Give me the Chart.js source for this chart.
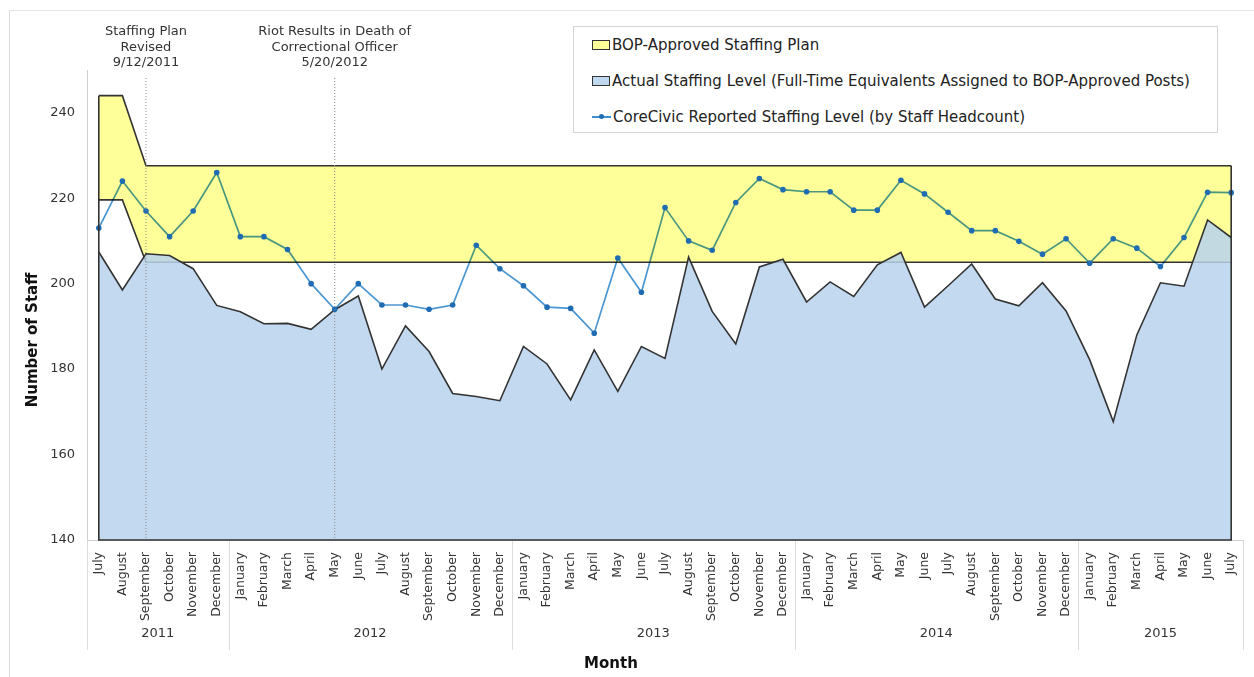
<!DOCTYPE html>
<html>
<head>
<meta charset="utf-8">
<script src="https://cdn.jsdelivr.net/npm/chart.js@4/dist/chart.umd.min.js"></script>
<style>
  html, body { margin: 0; padding: 0; background: #fff; }
  #wrap { position: relative; width: 1254px; height: 677px; overflow: hidden; font-family: 'DejaVu Sans', Verdana, sans-serif; }
  #frame { position: absolute; left: 9px; top: 10px; width: 1260px; height: 700px; border-left: 1px solid #dcdcdc; border-top: 1px solid #e6e6e6; }
  canvas { position: absolute; left: 0; top: 0; }
  #legend { position: absolute; left: 573px; top: 26px; width: 645px; height: 107px; border: 1px solid #d4d4d4; box-sizing: border-box; background: #fff; }
  .row { position: absolute; left: 18px; height: 20px; display: flex; align-items: center; font-size: 15px; color: #222; white-space: nowrap; }
  .swatch { width: 16px; height: 8px; border: 1.5px solid #333; margin-right: 2px; }
  .lineSym { position: relative; width: 19px; height: 20px; margin-right: 2px; }
  .lineSym::before { content: ''; position: absolute; left: 0; right: 0; top: 9px; height: 1.5px; background: #3d8fd0; }
  .lineSym::after { content: ''; position: absolute; left: 7px; top: 7px; width: 5px; height: 5px; border-radius: 50%; background: #1f6cb3; }
</style>
</head>
<body>
<div id="wrap">
  <div id="frame"></div>
  <canvas id="chart" width="1254" height="677"></canvas>
  <div id="legend">
    <div class="row" style="top:8px"><span class="swatch" style="background:#ffff99"></span>BOP-Approved Staffing Plan</div>
    <div class="row" style="top:44px"><span class="swatch" style="background:#c0d8ee"></span>Actual Staffing Level (Full-Time Equivalents Assigned to BOP-Approved Posts)</div>
    <div class="row" style="top:80px"><span class="lineSym"></span>CoreCivic Reported Staffing Level (by Staff Headcount)</div>
  </div>
</div>
<script>
// Monthly staffing, July 2011 - July 2015
const months = [
  'July', 'August', 'September', 'October', 'November', 'December',
  'January', 'February', 'March', 'April', 'May', 'June', 'July', 'August', 'September', 'October', 'November', 'December',
  'January', 'February', 'March', 'April', 'May', 'June', 'July', 'August', 'September', 'October', 'November', 'December',
  'January', 'February', 'March', 'April', 'May', 'June', 'July', 'August', 'September', 'October', 'November', 'December',
  'January', 'February', 'March', 'April', 'May', 'June', 'July'
];
const yearLabels = ['2011', '2012', '2013', '2014', '2015'];
const yearStart = [0, 6, 18, 30, 42];
const yTicks = [140, 160, 180, 200, 220, 240];

const reported = [
  213, 224, 217, 211, 217, 226,
  211, 211, 208, 200, 194, 200, 195, 195, 194, 195, 209, 203.5,
  199.5, 194.5, 194.2, 188.4, 206, 198, 217.8, 210, 207.8, 219, 224.6, 222,
  221.5, 221.5, 217.2, 217.2, 224.2, 221, 216.7, 212.4, 212.4, 209.9, 206.9, 210.5,
  204.8, 210.5, 208.3, 204, 210.8, 221.4, 221.3
];
const actual = [
  207.4, 198.5, 207, 206.6, 203.5, 194.9,
  193.4, 190.6, 190.7, 189.3, 193.9, 197.1, 180, 190.1, 184.1, 174.3, 173.6, 172.6,
  185.3, 181.2, 172.8, 184.5, 174.8, 185.3, 182.5, 206.2, 193.5, 185.9, 203.9, 205.7,
  195.7, 200.4, 197, 204.4, 207.3, 194.5, 199.5, 204.6, 196.4, 194.8, 200.2, 193.6,
  182.2, 167.7, 188, 200.2, 199.4, 214.9, 210.8
];
const planUpper = [
  244, 244, 227.6, 227.6, 227.6, 227.6,
  227.6, 227.6, 227.6, 227.6, 227.6, 227.6, 227.6, 227.6, 227.6, 227.6, 227.6, 227.6,
  227.6, 227.6, 227.6, 227.6, 227.6, 227.6, 227.6, 227.6, 227.6, 227.6, 227.6, 227.6,
  227.6, 227.6, 227.6, 227.6, 227.6, 227.6, 227.6, 227.6, 227.6, 227.6, 227.6, 227.6,
  227.6, 227.6, 227.6, 227.6, 227.6, 227.6, 227.6
];
const planLower = [
  219.6, 219.6, 205, 205, 205, 205,
  205, 205, 205, 205, 205, 205, 205, 205, 205, 205, 205, 205,
  205, 205, 205, 205, 205, 205, 205, 205, 205, 205, 205, 205,
  205, 205, 205, 205, 205, 205, 205, 205, 205, 205, 205, 205,
  205, 205, 205, 205, 205, 205, 205
];
// event markers: month index and text lines
const events = [
  { at: 2, lines: ['Staffing Plan', 'Revised', '9/12/2011'] },
  { at: 10, lines: ['Riot Results in Death of', 'Correctional Officer', '5/20/2012'] }
];

const FONT = "'DejaVu Sans', Verdana, sans-serif";
Chart.defaults.font.family = FONT;
Chart.defaults.color = '#333';

// the reported line is drawn with multiply so it turns teal over the yellow band
const blendLine = {
  id: 'blendLine',
  beforeDatasetDraw(chart, args) {
    if (args.index === 1) { chart.ctx.save(); chart.ctx.globalCompositeOperation = 'multiply'; }
  },
  afterDatasetDraw(chart, args) {
    if (args.index === 1) chart.ctx.restore();
  }
};

// extra drawing: area edges, event lines and text, year row, axis titles
const extras = {
  id: 'extras',
  afterDatasetsDraw(chart) {
    const { ctx, chartArea: area, scales: { x, y } } = chart;
    const last = months.length - 1;
    const x0 = x.getPixelForValue(0), x1 = x.getPixelForValue(last);
    const yb = y.getPixelForValue(y.min);
    ctx.save();
    ctx.strokeStyle = '#333';
    ctx.lineWidth = 1.6;
    ctx.beginPath();
    ctx.moveTo(x0, y.getPixelForValue(planUpper[0]));
    ctx.lineTo(x0, yb);
    ctx.lineTo(x1, yb);
    ctx.lineTo(x1, y.getPixelForValue(planUpper[last]));
    ctx.stroke();

    // event lines
    ctx.strokeStyle = '#8a8a8a';
    ctx.lineWidth = 1;
    ctx.setLineDash([1, 2]);
    ctx.fillStyle = '#333';
    ctx.font = '13px ' + FONT;
    ctx.textAlign = 'center';
    ctx.textBaseline = 'middle';
    events.forEach(ev => {
      const px = x.getPixelForValue(ev.at);
      ctx.beginPath();
      ctx.moveTo(px, 78);
      ctx.lineTo(px, yb);
      ctx.stroke();
      ev.lines.forEach((t, i) => ctx.fillText(t, px, 32 + i * 15.5));
    });
    ctx.setLineDash([]);

    // year separators and labels
    const half = (x.getPixelForValue(1) - x.getPixelForValue(0)) / 2;
    ctx.strokeStyle = '#dcdcdc';
    const bounds = yearStart.concat([months.length]);
    bounds.forEach(i => {
      const px = Math.round(x.getPixelForValue(i) - half) + 0.5;
      ctx.beginPath();
      ctx.moveTo(px, area.bottom + 1);
      ctx.lineTo(px, area.bottom + 110);
      ctx.stroke();
    });
    ctx.font = '13px ' + FONT;
    yearLabels.forEach((lab, k) => {
      const a = x.getPixelForValue(bounds[k]) - half;
      const b = x.getPixelForValue(bounds[k + 1]) - half;
      ctx.fillText(lab, (a + b) / 2, area.bottom + 94);
    });

    // axis titles
    ctx.fillStyle = '#111';
    ctx.font = 'bold 15px ' + FONT;
    ctx.fillText('Month', 611, 664);
    ctx.translate(33, 340);
    ctx.rotate(-Math.PI / 2);
    ctx.fillText('Number of Staff', 0, 0);
    ctx.restore();
  }
};

new Chart(document.getElementById('chart'), {
  type: 'line',
  data: {
    labels: months,
    datasets: [
      {
        label: 'CoreCivic points',
        data: reported,
        showLine: false,
        pointRadius: 2.8,
        pointBackgroundColor: '#1f6cb3',
        pointBorderWidth: 0,
        fill: false
      },
      {
        label: 'CoreCivic Reported Staffing Level (by Staff Headcount)',
        data: reported,
        borderColor: '#4a96d2',
        borderWidth: 1.7,
        pointRadius: 0,
        fill: false
      },
      {
        label: 'Actual Staffing Level',
        data: actual,
        borderColor: '#333',
        borderWidth: 1.6,
        pointRadius: 0,
        backgroundColor: 'rgba(183,210,237,0.85)',
        fill: 'start'
      },
      {
        label: 'Plan lower',
        data: planLower,
        borderColor: '#333',
        borderWidth: 1.6,
        pointRadius: 0,
        fill: false
      },
      {
        label: 'BOP-Approved Staffing Plan',
        data: planUpper,
        borderColor: '#333',
        borderWidth: 1.6,
        pointRadius: 0,
        backgroundColor: '#ffff99',
        fill: '-1'
      }
    ]
  },
  options: {
    responsive: false,
    animation: false,
    events: [],
    layout: { padding: { left: 12, right: 11, top: 70, bottom: 0 } },
    plugins: {
      legend: { display: false },
      tooltip: { enabled: false }
    },
    elements: { line: { tension: 0 } },
    scales: {
      x: {
        offset: true,
        grid: { display: false },
        border: { color: '#cfcfcf' },
        ticks: {
          autoSkip: false,
          minRotation: 90,
          maxRotation: 90,
          padding: 4,
          font: { size: 12.5 },
          color: '#333'
        },
        afterFit(scale) { scale.height = 137; }
      },
      y: {
        min: 140,
        max: 250,
        grid: { display: false, drawTicks: false },
        border: { color: '#cfcfcf' },
        afterBuildTicks(scale) { scale.ticks = yTicks.map(v => ({ value: v })); },
        ticks: {
          font: { size: 13 },
          color: '#333',
          padding: 12
        },
        afterFit(scale) { scale.width = 75; }
      }
    }
  },
  plugins: [blendLine, extras]
});
</script>
</body>
</html>
